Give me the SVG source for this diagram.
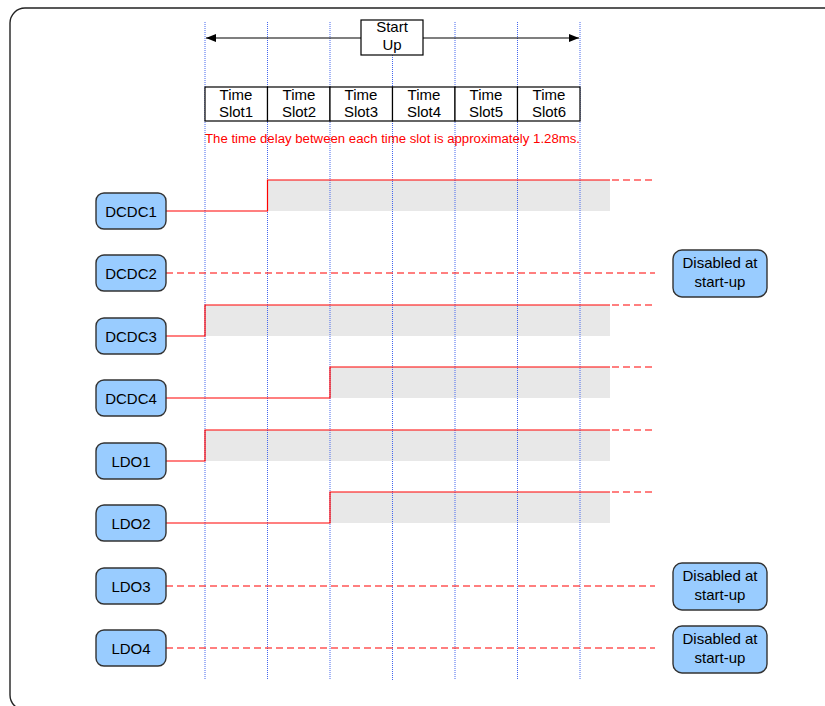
<svg xmlns="http://www.w3.org/2000/svg" width="825" height="706" viewBox="0 0 825 706">
<style>
text{font-family:"Liberation Sans",Arial,sans-serif;fill:#000}
.lbl{font-size:15px;text-anchor:middle}
.node{fill:#99ccff;stroke:#333;stroke-width:1.4}
.grid{stroke:#4466ee;stroke-width:1;stroke-dasharray:1,1;fill:none}
.band{fill:#e8e8e8}
.sig{stroke:#ff0000;stroke-width:1.2;fill:none}
.dash{stroke:#ff0000;stroke-width:1.2;fill:none;stroke-dasharray:7,4}
.cell{fill:#fff;stroke:#000;stroke-width:1.2}
</style>
<defs>
<marker id="ah" viewBox="0 0 10 8" refX="10" refY="4" markerWidth="10" markerHeight="8" markerUnits="userSpaceOnUse" orient="auto-start-reverse">
<path d="M0 0 L10 4 L0 8 Z" fill="#000"/>
</marker>
</defs>
<rect width="825" height="706" fill="#fff"/>
<rect x="10" y="8" width="830" height="702" rx="15" ry="15" fill="none" stroke="#222" stroke-width="1.4"/>

<g id="bands">
<rect class="band" x="267" y="180" width="343" height="31"/>
<rect class="band" x="205" y="305" width="405" height="31"/>
<rect class="band" x="330" y="367" width="280" height="31"/>
<rect class="band" x="205" y="430" width="405" height="31"/>
<rect class="band" x="330" y="492" width="280" height="31"/>
</g>

<g id="grid">
<line class="grid" x1="205" y1="22" x2="205" y2="680"/>
<line class="grid" x1="267.5" y1="22" x2="267.5" y2="680"/>
<line class="grid" x1="330" y1="22" x2="330" y2="680"/>
<line class="grid" x1="392.5" y1="55" x2="392.5" y2="680"/>
<line class="grid" x1="455" y1="22" x2="455" y2="680"/>
<line class="grid" x1="517.5" y1="22" x2="517.5" y2="680"/>
<line class="grid" x1="580" y1="22" x2="580" y2="680"/>
</g>

<g id="startup">
<line x1="206" y1="38" x2="579" y2="38" stroke="#000" stroke-width="1.2" marker-start="url(#ah)" marker-end="url(#ah)"/>
<rect x="361" y="20" width="62" height="35" fill="#fff" stroke="#000" stroke-width="1.2"/>
<text class="lbl" x="392" y="32">Start</text>
<text class="lbl" x="392" y="50">Up</text>
</g>

<g id="timeslots">
<rect class="cell" x="205" y="87" width="62.5" height="34"/>
<rect class="cell" x="267.5" y="87" width="62.5" height="34"/>
<rect class="cell" x="330" y="87" width="62.5" height="34"/>
<rect class="cell" x="392.5" y="87" width="62.5" height="34"/>
<rect class="cell" x="455" y="87" width="62.5" height="34"/>
<rect class="cell" x="517.5" y="87" width="62.5" height="34"/>
<text class="lbl" x="236" y="100">Time</text><text class="lbl" x="236" y="117">Slot1</text>
<text class="lbl" x="299" y="100">Time</text><text class="lbl" x="299" y="117">Slot2</text>
<text class="lbl" x="361" y="100">Time</text><text class="lbl" x="361" y="117">Slot3</text>
<text class="lbl" x="424" y="100">Time</text><text class="lbl" x="424" y="117">Slot4</text>
<text class="lbl" x="486" y="100">Time</text><text class="lbl" x="486" y="117">Slot5</text>
<text class="lbl" x="549" y="100">Time</text><text class="lbl" x="549" y="117">Slot6</text>
</g>

<text x="205" y="143" font-size="12" style="fill:#ff0000" textLength="375" lengthAdjust="spacingAndGlyphs">The time delay between each time slot is approximately 1.28ms.</text>

<g id="connectors">
<path class="sig" d="M166 211 H267.5 V180 H610"/><path class="dash" d="M612 180 H655"/>
<path class="dash" d="M166 273 H655"/>
<path class="sig" d="M166 336 H205 V305 H610"/><path class="dash" d="M612 305 H655"/>
<path class="sig" d="M166 398 H330 V367 H610"/><path class="dash" d="M612 367 H655"/>
<path class="sig" d="M166 461 H205 V430 H610"/><path class="dash" d="M612 430 H655"/>
<path class="sig" d="M166 523 H330 V492 H610"/><path class="dash" d="M612 492 H655"/>
<path class="dash" d="M166 586 H655"/>
<path class="dash" d="M166 648 H655"/>
</g>

<g id="DCDC1"><rect class="node" x="96" y="193" width="70" height="36" rx="8"/><text class="lbl" x="131" y="216.5">DCDC1</text></g>
<g id="DCDC2"><rect class="node" x="96" y="255" width="70" height="36" rx="8"/><text class="lbl" x="131" y="278.5">DCDC2</text></g>
<g id="DCDC3"><rect class="node" x="96" y="318" width="70" height="36" rx="8"/><text class="lbl" x="131" y="341.5">DCDC3</text></g>
<g id="DCDC4"><rect class="node" x="96" y="380" width="70" height="36" rx="8"/><text class="lbl" x="131" y="403.5">DCDC4</text></g>
<g id="LDO1"><rect class="node" x="96" y="443" width="70" height="36" rx="8"/><text class="lbl" x="131" y="466.5">LDO1</text></g>
<g id="LDO2"><rect class="node" x="96" y="505" width="70" height="36" rx="8"/><text class="lbl" x="131" y="528.5">LDO2</text></g>
<g id="LDO3"><rect class="node" x="96" y="568" width="70" height="36" rx="8"/><text class="lbl" x="131" y="591.5">LDO3</text></g>
<g id="LDO4"><rect class="node" x="96" y="630" width="70" height="36" rx="8"/><text class="lbl" x="131" y="653.5">LDO4</text></g>

<g id="DCDC2_disabled"><rect class="node" x="673" y="250" width="94" height="47" rx="9"/><text class="lbl" x="720" y="268">Disabled at</text><text class="lbl" x="720" y="287">start-up</text></g>
<g id="LDO3_disabled"><rect class="node" x="673" y="563" width="94" height="47" rx="9"/><text class="lbl" x="720" y="581">Disabled at</text><text class="lbl" x="720" y="600">start-up</text></g>
<g id="LDO4_disabled"><rect class="node" x="673" y="626" width="94" height="47" rx="9"/><text class="lbl" x="720" y="644">Disabled at</text><text class="lbl" x="720" y="663">start-up</text></g>
</svg>
